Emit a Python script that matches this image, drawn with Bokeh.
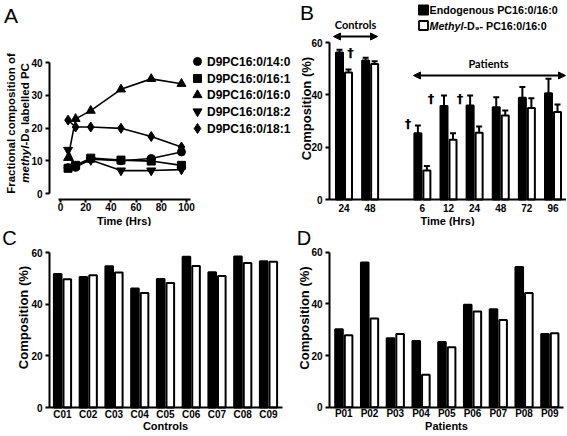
import math
from bokeh.plotting import figure
from bokeh.layouts import column, row
from bokeh.models import (Range1d, FixedTicker, Label, Arrow, NormalHead, Whisker,
                          TeeHead, ColumnDataSource)
from bokeh.embed import file_html
from bokeh.resources import INLINE

# ---------------- data ----------------
# Panel A: fractional composition of methyl-D9 labelled PC over time
a_times = [6, 12, 24, 48, 72, 96]
a_names = ["D9PC16:0/14:0", "D9PC16:0/16:1", "D9PC16:0/16:0", "D9PC16:0/18:2", "D9PC16:0/18:1"]
a_markers = ["circle", "square", "triangle", "inverted_triangle", "diamond"]
a_pc14_0 = [7.9, 8.0, 10.5, 10.0, 10.7, 12.7]
a_pc16_1 = [7.7, 8.6, 10.8, 10.2, 9.9, 8.6]
a_pc16_0 = [10.9, 22.8, 25.3, 31.8, 35.0, 33.5]
a_pc18_2 = [13.3, 8.4, 10.2, 7.0, 7.0, 7.3]
a_pc18_1 = [22.4, 20.3, 20.3, 19.9, 17.4, 14.2]
a_series = [a_pc14_0, a_pc16_1, a_pc16_0, a_pc18_2, a_pc18_1]

# Panel B: composition over time, controls vs patients
b_time_labels = ["24", "48", "6", "12", "24", "48", "72", "96"]
b_groups = ["Controls", "Controls", "Patients", "Patients", "Patients", "Patients", "Patients", "Patients"]
b_endo = [56.2, 53.1, 25.3, 35.7, 35.9, 35.3, 38.9, 40.6]
b_endo_err = [1.0, 1.1, 3.0, 4.0, 3.8, 3.8, 4.1, 5.5]
b_meth = [48.5, 51.8, 11.1, 22.8, 25.5, 32.1, 35.0, 33.4]
b_meth_err = [1.2, 1.0, 1.7, 2.5, 2.4, 1.9, 3.7, 2.9]

# Panel C: individual controls
c_ids = ["C01", "C02", "C03", "C04", "C05", "C06", "C07", "C08", "C09"]
c_endo = [51.8, 50.6, 54.8, 46.2, 49.8, 58.5, 52.5, 58.6, 56.7]
c_meth = [49.7, 51.3, 52.4, 44.4, 48.3, 54.9, 51.0, 56.0, 56.5]

# Panel D: individual patients
d_ids = ["P01", "P02", "P03", "P04", "P05", "P06", "P07", "P08", "P09"]
d_endo = [30.2, 56.0, 26.7, 25.6, 25.2, 39.7, 37.9, 54.3, 28.3]
d_meth = [27.9, 34.3, 28.3, 12.6, 23.2, 37.0, 33.8, 44.2, 28.6]

# ---------------- layout helpers ----------------
FONT = "Liberation Sans"
WL, WR = 292, 274
HT, HB = 226, 209


def panel(W, H, ox, oy, xcal, ycal, yaxis_rx, xaxis_ry):
    lx = lambda r: r - ox
    ly = lambda r: r - oy
    rx1, dx1, rx2, dx2 = xcal
    ry1, dy1, ry2, dy2 = ycal
    kx = (dx2 - dx1) / (lx(rx2) - lx(rx1))
    ky = (dy2 - dy1) / (ly(ry2) - ly(ry1))
    fx = lambda px: dx1 + (px - lx(rx1)) * kx
    fy = lambda py: dy1 + (py - ly(ry1)) * ky
    p = figure(width=W, height=H,
               x_range=Range1d(fx(0), fx(W)),
               y_range=Range1d(fy(H), fy(0)),
               output_backend="svg", toolbar_location=None,
               min_border_left=0, min_border_right=0,
               min_border_top=0, min_border_bottom=0)
    p.xgrid.visible = False
    p.ygrid.visible = False
    p.outline_line_color = None
    p.background_fill_color = "white"
    p.border_fill_color = "white"
    p.yaxis.fixed_location = fx(lx(yaxis_rx))
    p.xaxis.fixed_location = fy(ly(xaxis_ry))
    for ax in p.axis:
        ax.axis_line_width = 2
        ax.axis_line_color = "black"
        ax.major_tick_line_width = 2
        ax.major_tick_line_color = "black"
        ax.major_tick_out = 4
        ax.major_tick_in = 0
        ax.minor_tick_line_color = None
        ax.major_label_text_font = FONT
        ax.major_label_text_font_style = "bold"
        ax.major_label_text_font_size = "10px"
        ax.major_label_text_color = "black"
        ax.major_label_standoff = 3

    def at(rx, ry):
        return fx(lx(rx)), fy(ly(ry))

    return p, at, kx, ky


def txt(p, at, rx, ry, text, size, style="bold", align="center", baseline="middle",
        angle=0.0, font=FONT):
    x, y = at(rx, ry)
    p.add_layout(Label(x=x, y=y, text=text, text_font=font,
                       text_font_size=f"{size}px", text_font_style=style,
                       text_align=align, text_baseline=baseline, angle=angle,
                       text_color="black"))


def pair_bars(p, xs, endo, meth, off, w):
    se = ColumnDataSource(dict(x=[x - off for x in xs], top=endo))
    sm = ColumnDataSource(dict(x=[x + off for x in xs], top=meth))
    p.vbar(x="x", top="top", bottom=0, width=w, source=se,
           fill_color="black", line_color="black", line_width=2)
    p.vbar(x="x", top="top", bottom=0, width=w, source=sm,
           fill_color="white", line_color="black", line_width=2)


# ---------------- Panel A ----------------
pA, atA, kxA, kyA = panel(WL, HT, 0, 0, (60, 0, 186, 100), (193, 0, 62, 40), 49, 199)
pA.xaxis.ticker = FixedTicker(ticks=[0, 20, 40, 60, 80, 100])
pA.yaxis.ticker = FixedTicker(ticks=[0, 10, 20, 30, 40])
pA.yaxis.bounds = (0, 40)
pA.xaxis.bounds = (atA(58, 0)[0], atA(190, 0)[0])
pA.xaxis.major_tick_out = 3
pA.xaxis.major_label_standoff = 0
for vals in a_series:
    pA.line(a_times, vals, line_color="black", line_width=1.6)
for vals, mk in zip(a_series, a_markers):
    sz = 8 if mk in ("circle", "square") else (10 if mk == "diamond" else 9)
    pA.scatter(a_times, vals, marker=mk, size=sz, fill_color="black", line_color="black")

# legend of panel A
leg_rows = [61, 78, 94.5, 111, 128]
for name, mk, ry in zip(a_names, a_markers, leg_rows):
    mx, my = atA(197, ry)
    sz = 8 if mk in ("circle", "square") else (10 if mk == "diamond" else 9)
    pA.scatter([mx], [my], marker=mk, size=sz, fill_color="black", line_color="black")
    txt(pA, atA, 206.5, ry, name, 12, align="left")

txt(pA, atA, 10.5, 14.5, "A", 21, style="normal")
txt(pA, atA, 123.5, 220.5, "Time (Hrs)", 11)
txt(pA, atA, 10, 123, "Fractional composition of", 11.5, angle=math.pi / 2)
fsA = 11.5
w_methyl = 3.223 * fsA
w_rest = 7.07 * fsA
bottom_ref = 123 + (w_methyl + w_rest) / 2
txt(pA, atA, 24.5, bottom_ref, "methyl", fsA, style="bold italic", align="left",
    angle=math.pi / 2)
txt(pA, atA, 24.5, bottom_ref - w_methyl, "-D\u2089 labelled PC", fsA, align="left",
    angle=math.pi / 2)

# ---------------- Panel B ----------------
b_pos = []
i = 0
prev = None
for g in b_groups:
    if prev is not None and g != prev:
        i += 1
    b_pos.append(i)
    i += 1
    prev = g

pB, atB, kxB, kyB = panel(WR, HT, WL, 0, (343.5, 0, 552.5, 8), (199, 0, 42, 60), 329, 199)
pB.yaxis.ticker = FixedTicker(ticks=[0, 20, 40, 60])
pB.yaxis.bounds = (0, 60)
pB.xaxis.ticker = FixedTicker(ticks=b_pos)
pB.xaxis.major_label_overrides = {p_: l_ for p_, l_ in zip(b_pos, b_time_labels)}
pB.xaxis.major_tick_line_color = None
pB.xaxis.major_tick_out = 0
pB.xaxis.major_label_standoff = 4
pB.xaxis.bounds = (atB(329, 0)[0], atB(566, 0)[0])

px_unit_B = 1.0 / kxB  # px per data unit
offB = 4.5 / px_unit_B
wB = 7.0 / px_unit_B
pair_bars(pB, b_pos, b_endo, b_meth, offB, wB)
for sign, vals, errs in ((-1, b_endo, b_endo_err), (1, b_meth, b_meth_err)):
    src = ColumnDataSource(dict(base=[x + sign * offB for x in b_pos], lower=vals,
                                upper=[v + e for v, e in zip(vals, errs)]))
    pB.add_layout(Whisker(base="base", lower="lower", upper="upper", source=src,
                          dimension="height", line_width=2, line_color="black",
                          upper_head=TeeHead(size=6, line_width=2, line_color="black"),
                          lower_head=None))

# legend of panel B
sx1, sy1 = atB(423, 9.5)
sx2, sy2 = atB(423, 25)
pB.scatter([sx1], [sy1], marker="square", size=10, fill_color="black", line_color="black", line_width=1)
pB.scatter([sx2], [sy2], marker="square", size=9, fill_color="white", line_color="black", line_width=1.8)
fsB = 10.7
txt(pB, atB, 429, 9, "Endogenous PC16:0/16:0", fsB, align="left")
txt(pB, atB, 429, 25.5, "Methyl", fsB, style="bold italic", align="left")
txt(pB, atB, 429 + 3.167 * fsB, 25.5, "-D\u2089- PC16:0/16:0", fsB, align="left")

# group arrows
ax1, ay1 = atB(333, 36)
ax2, ay2 = atB(377, 36)
pB.add_layout(Arrow(x_start=ax1, y_start=ay1, x_end=ax2, y_end=ay2, line_width=2, line_color="black",
                    start=NormalHead(size=7, fill_color="black", line_color="black"),
                    end=NormalHead(size=7, fill_color="black", line_color="black")))
px1, py1 = atB(413, 75)
px2, py2 = atB(565, 75)
pB.add_layout(Arrow(x_start=px1, y_start=py1, x_end=px2, y_end=py2, line_width=2, line_color="black",
                    start=NormalHead(size=7, fill_color="black", line_color="black"),
                    end=NormalHead(size=7, fill_color="black", line_color="black")))
txt(pB, atB, 355, 24, "Controls", 11, font="Lato")
txt(pB, atB, 488, 63, "Patients", 11, font="Lato")

# significance daggers
for rx, ry in ((350, 52), (407.5, 123), (430.5, 97.5), (459.5, 97.5)):
    txt(pB, atB, rx, ry, "\u2020", 13, font="DejaVu Sans")

txt(pB, atB, 306.5, 11.5, "B", 21, style="normal")
txt(pB, atB, 447, 220.5, "Time (Hrs)", 11)
txt(pB, atB, 306, 108, "Composition (%)", 13, angle=math.pi / 2)

# ---------------- Panel C ----------------
c_pos = list(range(len(c_ids)))
pC, atC, kxC, kyC = panel(WL, HB, 0, HT, (62, 0, 268, 8), (407, 0, 252.3, 60), 49, 407)
pC.yaxis.ticker = FixedTicker(ticks=[0, 20, 40, 60])
pC.yaxis.bounds = (0, 60)
pC.xaxis.ticker = FixedTicker(ticks=c_pos)
pC.xaxis.major_label_overrides = {p_: l_ for p_, l_ in zip(c_pos, c_ids)}
pC.xaxis.major_tick_line_color = None
pC.xaxis.major_tick_out = 0
pC.xaxis.major_label_standoff = 1
pC.xaxis.bounds = (atC(49, 400)[0], atC(282, 400)[0])
px_unit_C = 1.0 / kxC
pair_bars(pC, c_pos, c_endo, c_meth, 4.8 / px_unit_C, 7.6 / px_unit_C)
txt(pC, atC, 9, 237, "C", 20, style="normal")
txt(pC, atC, 22.5, 317, "Composition (%)", 13, angle=math.pi / 2)
txt(pC, atC, 165, 425, "Controls", 11)

# ---------------- Panel D ----------------
d_pos = list(range(len(d_ids)))
pD, atD, kxD, kyD = panel(WR, HB, WL, HT, (343.3, 0, 549.3, 8), (406.7, 0, 251.7, 60), 329, 406.7)
pD.yaxis.ticker = FixedTicker(ticks=[0, 20, 40, 60])
pD.yaxis.bounds = (0, 60)
pD.xaxis.ticker = FixedTicker(ticks=d_pos)
pD.xaxis.major_label_overrides = {p_: l_ for p_, l_ in zip(d_pos, d_ids)}
pD.xaxis.major_tick_line_color = None
pD.xaxis.major_tick_out = 0
pD.xaxis.major_label_standoff = 1
pD.xaxis.bounds = (atD(329, 400)[0], atD(563, 400)[0])
px_unit_D = 1.0 / kxD
pair_bars(pD, d_pos, d_endo, d_meth, 4.8 / px_unit_D, 7.6 / px_unit_D)
txt(pD, atD, 303.5, 237, "D", 20, style="normal")
txt(pD, atD, 304, 317.5, "Composition (%)", 13, angle=math.pi / 2)
txt(pD, atD, 446, 425, "Patients", 11)

layout = column(row(pA, pB), row(pC, pD))
open("out.html", "w").write(file_html(layout, INLINE))
